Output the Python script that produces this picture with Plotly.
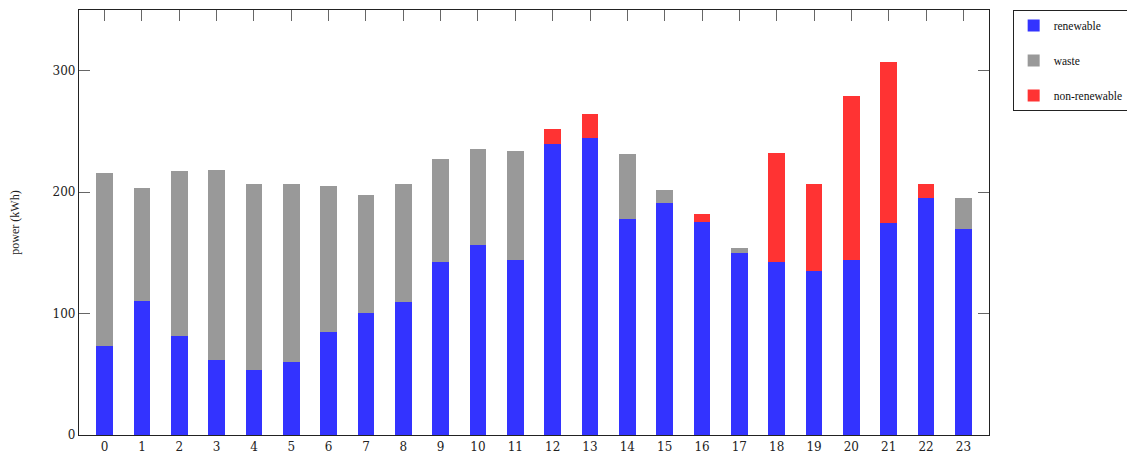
import plotly.graph_objects as go

hours = list(range(24))
tick_labels = [str(h) for h in hours]
renewable = [73.1, 110.4, 81.4, 61.9, 53.7, 60.0, 84.9, 100.5, 109.3, 142.5, 156.2, 144.4,
             240.0, 244.4, 177.8, 190.7, 175.1, 149.6, 142.7, 134.8, 144.1, 174.2, 195.3, 169.9]
waste = [142.5, 93.4, 136.1, 156.2, 153.1, 146.8, 120.0, 96.8, 97.5, 84.6, 79.1, 89.8,
         0, 0, 53.4, 11.2, 0, 4.4, 0, 0, 0, 0, 0, 25.4]
non_renewable = [0, 0, 0, 0, 0, 0, 0, 0, 0, 0, 0, 0,
                 12.0, 20.0, 0, 0, 6.5, 0, 89.6, 71.5, 134.8, 133.2, 11.5, 0]

series = [
    ("renewable", renewable, "#3333ff"),
    ("waste", waste, "#999999"),
    ("non-renewable", non_renewable, "#ff3333"),
]

FONT = "Liberation Serif, serif"
TICKFONT = "DejaVu Serif, serif"

fig = go.Figure()
for name, vals, col in series:
    fig.add_trace(go.Bar(
        x=hours, y=vals, name=name, width=0.45, legendgroup=name,
        marker=dict(color=col, line=dict(width=0)),
    ))

fig.update_layout(
    barmode="stack",
    width=1127, height=451,
    margin=dict(l=71, r=146, t=2, b=24, autoexpand=False),
    plot_bgcolor="white", paper_bgcolor="white",
    font=dict(family=FONT, size=13, color="#222"),
    showlegend=True,
    legend=dict(
        x=1.026, y=1.0, xanchor="left", yanchor="top",
        bordercolor="#222", borderwidth=1,
        font=dict(family=FONT, size=11.5, color="#111"),
        traceorder="grouped",
        itemwidth=30,
        tracegroupgap=16,
    ),
)

fig.update_xaxes(
    range=[-0.686, 23.686],
    tickmode="array", tickvals=hours, ticktext=tick_labels,
    ticks="inside", ticklen=11, tickcolor="#666", tickwidth=1,
    showline=True, linecolor="#222", linewidth=1.2, mirror="allticks",
    showgrid=False, zeroline=False, layer="below traces",
    tickfont=dict(family=TICKFONT, size=12, color="#222"),
)
fig.update_yaxes(
    range=[0, 350],
    tickmode="array", tickvals=[0, 100, 200, 300], ticktext=["0", "100", "200", "300"],
    ticks="inside", ticklen=11, tickcolor="#666", tickwidth=1,
    showline=True, linecolor="#222", linewidth=1.2, mirror="allticks",
    showgrid=False, zeroline=False,
    title=dict(text="power (kWh)", font=dict(family=FONT, size=12, color="#222"), standoff=30),
    tickfont=dict(family=TICKFONT, size=12, color="#222"),
)

fig.write_html("out.html")
